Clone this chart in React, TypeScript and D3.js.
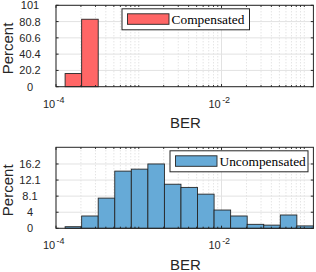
// App.tsx
// two stacked log-x histograms of BER (compensated vs uncompensated)
import * as d3 from 'd3';
import React, { useRef, useEffect } from 'react';

// log10 of the bin edges
const binEdgeExp = [-3.89, -3.69, -3.49, -3.29, -3.09, -2.89, -2.69, -2.49, -2.29, -2.09, -1.89, -1.69, -1.49, -1.29, -1.09, -0.89];
// percent per bin
const compensated = [16.3, 83.7, 0, 0, 0, 0, 0, 0, 0, 0, 0, 0, 0, 0, 0];
const uncompensated = [0.4, 3.1, 7.6, 14.4, 14.9, 16.2, 11.1, 10.3, 8.6, 4.6, 3.1, 1.0, 0.8, 3.35, 0.6];

const topTicks = [0, 20.2, 40.4, 60.6, 80.8, 101];
const topTickLabels = ["0", "20.2", "40.4", "60.6", "80.8", "101"];
const bottomTicks = [0, 4.05, 8.1, 12.15, 16.2];
const bottomTickLabels = ["0", "4", "8.1", "12.1", "16.2"];
const xTicks = [1e-4, 1e-2];
const xTickExp = ["-4", "-2"];

const sans = "'Liberation Sans', Arial, sans-serif";
const serif = "'Liberation Serif', 'Times New Roman', serif";
const axisColor = "#262626";

function drawPanel(svg, o) {
    const edges = binEdgeExp.map(e => Math.pow(10, e));
    const x = d3.scaleLog()
        .domain([1e-4, edges[edges.length - 1]])
        .range([56, 313.4]);
    const y = d3.scaleLinear()
        .domain([0, o.yMax])
        .range([o.bottom, o.top]);
    const [x0, x1] = x.range();
    const g = svg.append("g");

    g.append("rect")
        .attr("x", x0).attr("y", o.top)
        .attr("width", x1 - x0).attr("height", o.bottom - o.top)
        .attr("fill", "white");

    // minor grid (dotted)
    const minor = x.ticks().filter(t => !xTicks.some(m => Math.abs(m - t) / t < 1e-6));
    g.selectAll(".minor").data(minor).enter().append("line")
        .attr("x1", d => x(d)).attr("x2", d => x(d))
        .attr("y1", o.top).attr("y2", o.bottom)
        .attr("stroke", "#cfcfcf").attr("stroke-width", 0.8)
        .attr("stroke-dasharray", "1,2");

    // major grid
    g.selectAll(".vgrid").data(xTicks).enter().append("line")
        .attr("x1", d => x(d)).attr("x2", d => x(d))
        .attr("y1", o.top).attr("y2", o.bottom)
        .attr("stroke", "#e2e2e2");
    g.selectAll(".hgrid").data(o.ticks).enter().append("line")
        .attr("x1", x0).attr("x2", x1)
        .attr("y1", d => y(d)).attr("y2", d => y(d))
        .attr("stroke", "#e2e2e2");

    // bars
    g.selectAll(".bar").data(o.values).enter().append("rect")
        .attr("x", (d, i) => x(edges[i]))
        .attr("width", (d, i) => x(edges[i + 1]) - x(edges[i]))
        .attr("y", d => y(d))
        .attr("height", d => o.bottom - y(d))
        .attr("fill", o.fill)
        .attr("stroke", axisColor).attr("stroke-width", 0.9);

    // box
    g.append("rect")
        .attr("x", x0).attr("y", o.top)
        .attr("width", x1 - x0).attr("height", o.bottom - o.top)
        .attr("fill", "none").attr("stroke", axisColor).attr("stroke-width", 1);

    // tick marks
    const tl = 2.6, mtl = 1.6;
    o.ticks.forEach(t => {
        g.append("line").attr("x1", x0).attr("x2", x0 + tl).attr("y1", y(t)).attr("y2", y(t)).attr("stroke", axisColor);
        g.append("line").attr("x1", x1).attr("x2", x1 - tl).attr("y1", y(t)).attr("y2", y(t)).attr("stroke", axisColor);
    });
    xTicks.forEach(t => {
        g.append("line").attr("x1", x(t)).attr("x2", x(t)).attr("y1", o.bottom).attr("y2", o.bottom - tl).attr("stroke", axisColor);
        g.append("line").attr("x1", x(t)).attr("x2", x(t)).attr("y1", o.top).attr("y2", o.top + tl).attr("stroke", axisColor);
    });
    minor.forEach(t => {
        g.append("line").attr("x1", x(t)).attr("x2", x(t)).attr("y1", o.bottom).attr("y2", o.bottom - mtl).attr("stroke", axisColor);
        g.append("line").attr("x1", x(t)).attr("x2", x(t)).attr("y1", o.top).attr("y2", o.top + mtl).attr("stroke", axisColor);
    });

    // y tick labels
    g.selectAll(".ylab").data(o.ticks).enter().append("text")
        .attr("x", 30).attr("y", d => y(d)).attr("dy", "0.36em")
        .attr("text-anchor", "middle")
        .attr("font-family", sans).attr("font-size", 11).attr("fill", axisColor)
        .text((d, i) => o.tickLabels[i]);

    // x tick labels 10^k
    xTicks.forEach((t, i) => {
        g.append("text")
            .attr("x", x(t) - 0.8).attr("y", o.bottom + 21)
            .attr("text-anchor", "end")
            .attr("font-family", sans).attr("font-size", 11).attr("fill", axisColor)
            .text("10");
        g.append("text")
            .attr("x", x(t) + 0.6).attr("y", o.bottom + 16)
            .attr("font-family", sans).attr("font-size", 9).attr("fill", axisColor)
            .text(xTickExp[i]);
    });

    g.append("text")
        .attr("x", 185.5).attr("y", o.bottom + 41.6)
        .attr("text-anchor", "middle")
        .attr("font-family", sans).attr("font-size", 15).attr("fill", axisColor)
        .text("BER");
    g.append("text")
        .attr("transform", "translate(12.5," + ((o.top + o.bottom) / 2 + 2.5) + ") rotate(-90)")
        .attr("text-anchor", "middle")
        .attr("font-family", sans).attr("font-size", 15).attr("fill", axisColor)
        .text("Percent");

    // legend
    const ly = o.top + 3.5;
    const lh = 21;
    g.append("rect")
        .attr("x", o.legendX).attr("y", ly)
        .attr("width", o.legendW).attr("height", lh)
        .attr("fill", "white").attr("stroke", axisColor).attr("stroke-width", 1);
    g.append("rect")
        .attr("x", o.legendX + 5.5).attr("y", ly + 5)
        .attr("width", 41.5).attr("height", lh - 10.5)
        .attr("fill", o.fill).attr("stroke", axisColor).attr("stroke-width", 0.9);
    g.append("text")
        .attr("x", o.legendX + 49.5).attr("y", ly + lh / 2).attr("dy", "0.34em")
        .attr("font-family", serif).attr("font-size", 13.4).attr("fill", "black")
        .text(o.label);
}

function App() {
    const ref = useRef(null);
    useEffect(() => {
        const svg = d3.select(ref.current);
        svg.selectAll("*").remove();
        drawPanel(svg, {
            top: 5.3, bottom: 86.7, yMax: 101,
            ticks: topTicks, tickLabels: topTickLabels,
            values: compensated, fill: "#ff6666",
            label: "Compensated", legendX: 122, legendW: 127.5,
        });
        drawPanel(svg, {
            top: 147.3, bottom: 228.3, yMax: 20.4,
            ticks: bottomTicks, tickLabels: bottomTickLabels,
            values: uncompensated, fill: "#66aad7",
            label: "Uncompensated", legendX: 170, legendW: 138,
        });
    }, []);

    return (
        <svg ref={ref} width={316} height={272}
            style={{ position: "absolute", left: 0, top: 0, background: "white" }}>
        </svg>
    );
}

export default App;
